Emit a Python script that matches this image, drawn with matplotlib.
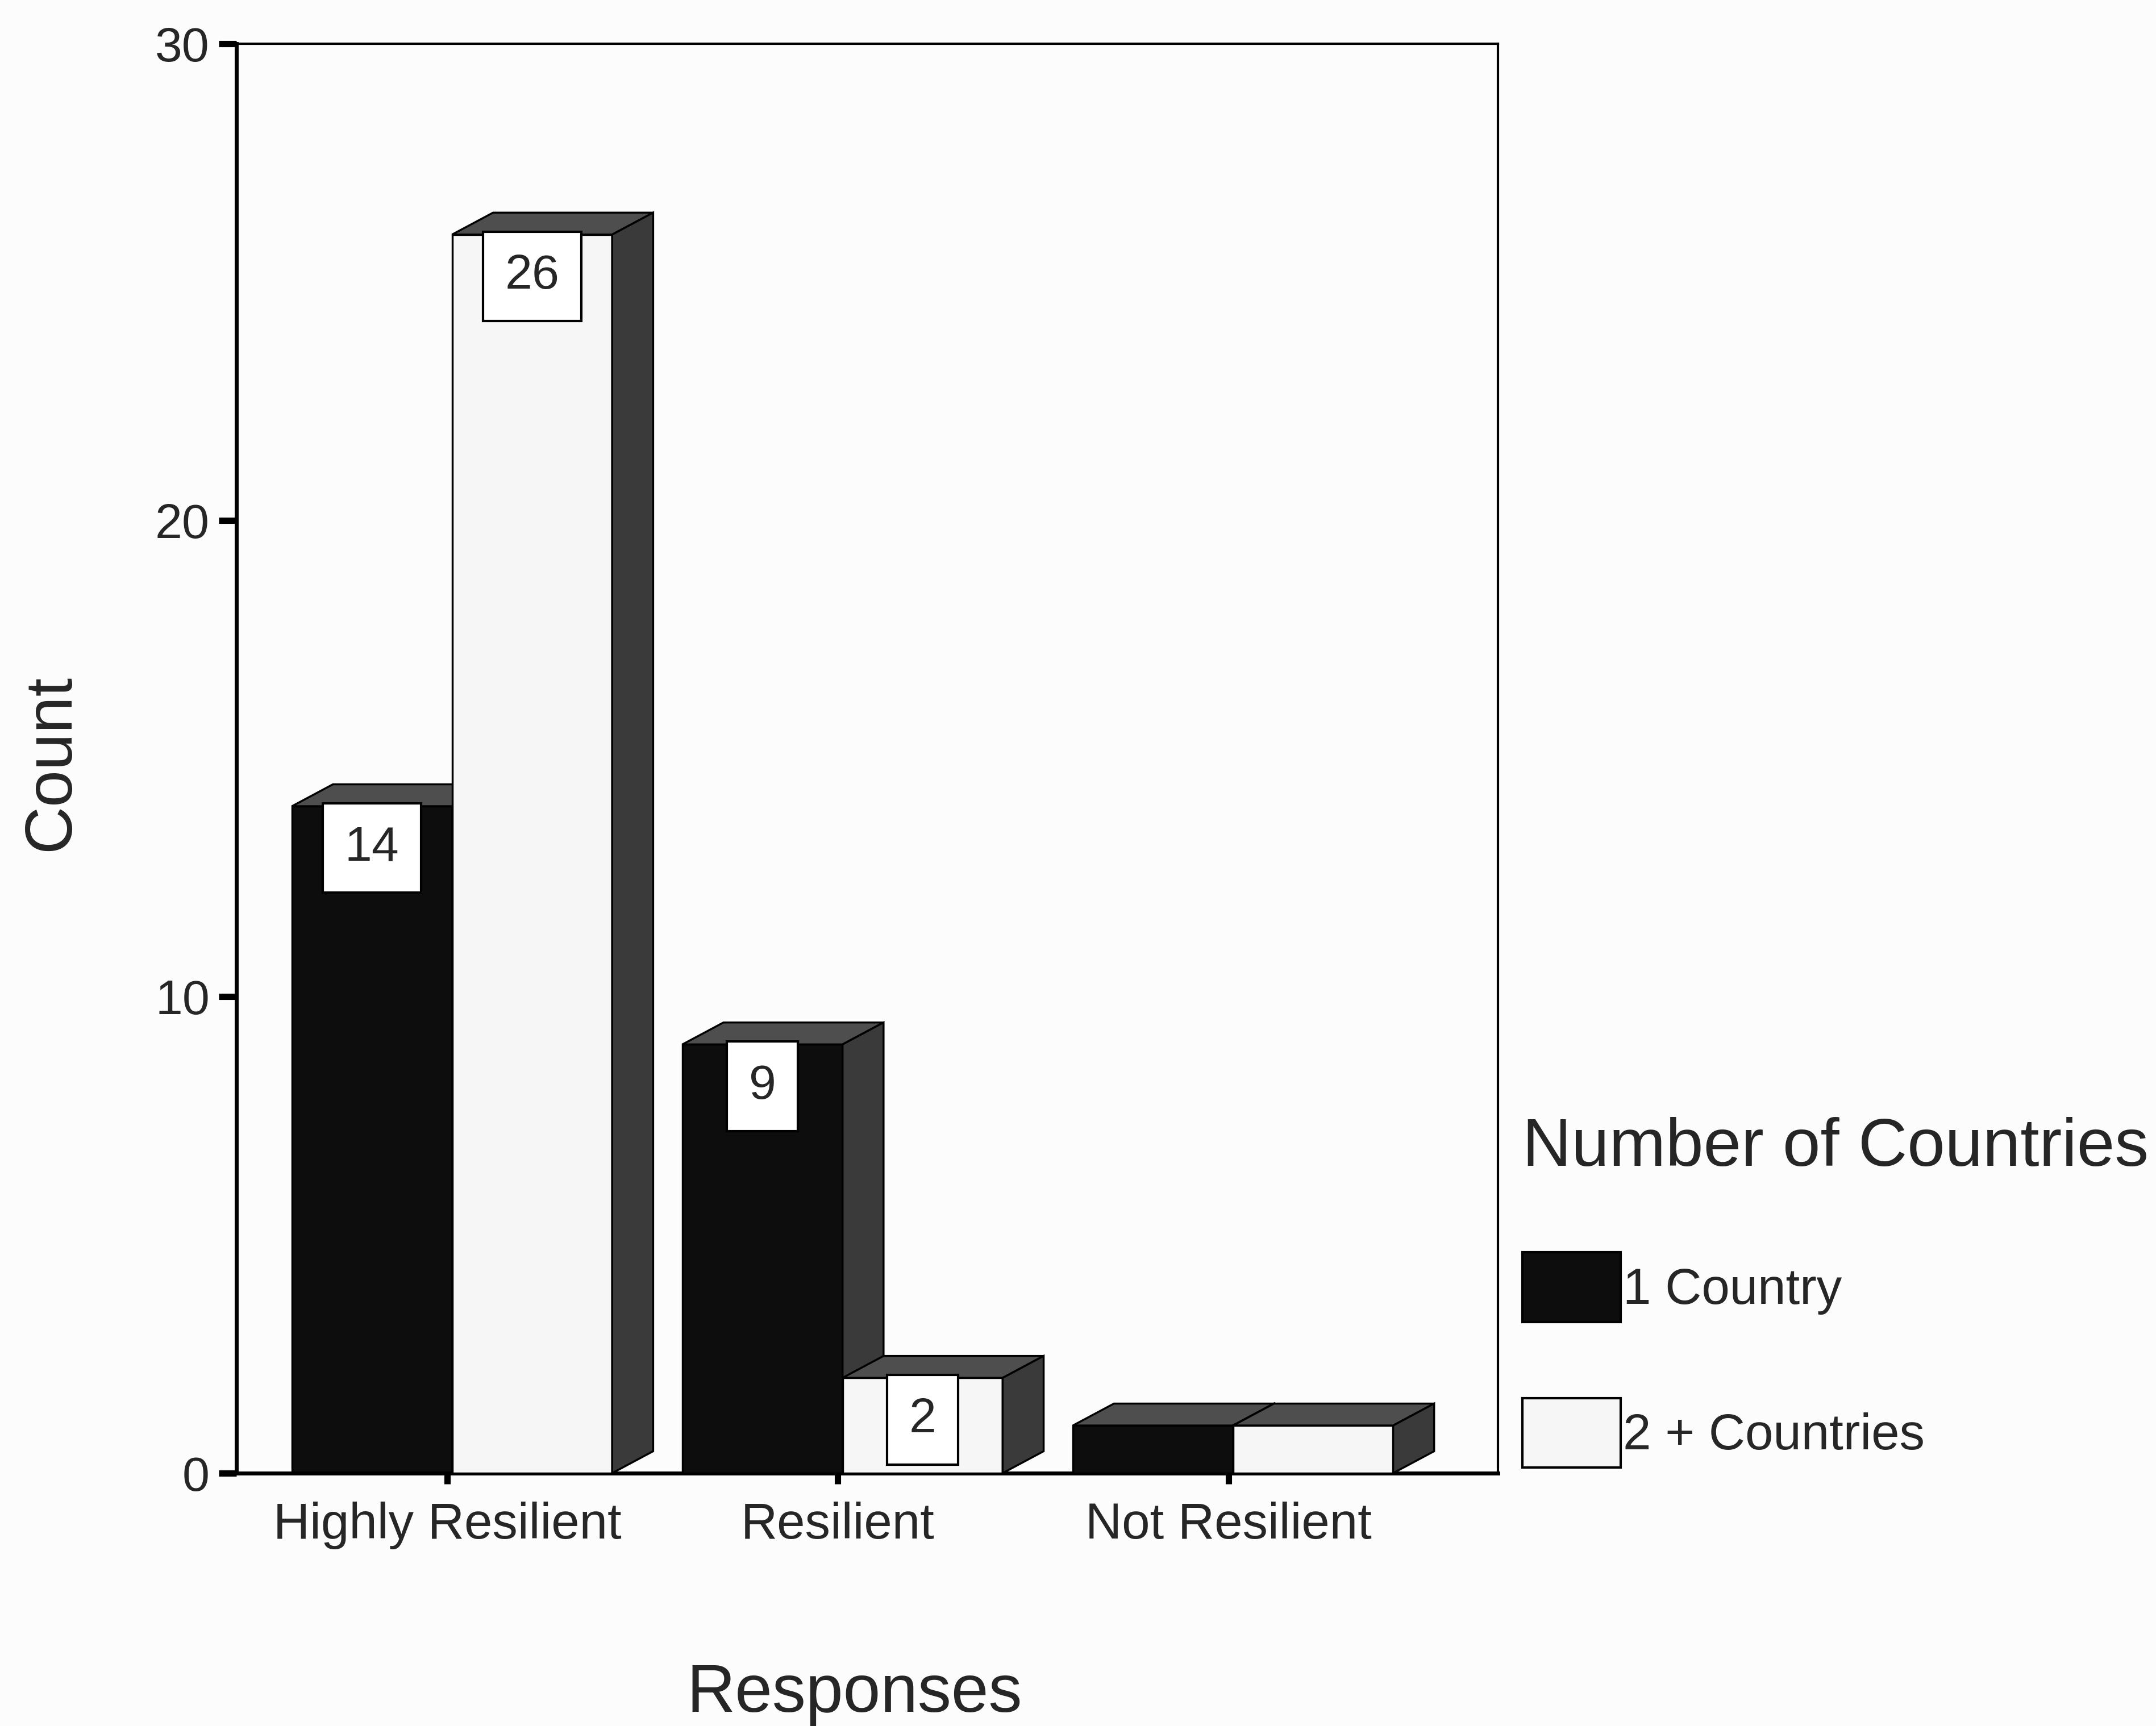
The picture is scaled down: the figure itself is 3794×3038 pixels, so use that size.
import matplotlib
matplotlib.use('Agg')
import matplotlib.pyplot as plt
from matplotlib.patches import Polygon, Patch
import numpy as np

# data
categories = ['Highly Resilient', 'Resilient', 'Not Resilient']
series_names = ['1 Country', '2 + Countries']
one_country = [14, 9, 1]
two_plus = [26, 2, 1]

plt.rcParams['font.family'] = ['Liberation Sans', 'DejaVu Sans']

front_colors = ['#0d0d0d', '#f6f6f6']
side_color = '#3a3a3a'
top_color = '#4e4e4e'
txt_color = '#262626'

bar_w = 0.41      # width of one bar in category units
dx, dy = 0.105, 0.46  # 3d depth offset (x units, count units)

fig = plt.figure(figsize=(37.94, 30.38), dpi=100, facecolor='#fcfcfc')
ax = fig.add_axes([0.1097, 0.1465, 0.585, 0.828])
ax.set_facecolor('#fcfcfc')

x = np.arange(len(categories))
for j, vals in enumerate([one_country, two_plus]):
    for i, v in enumerate(vals):
        x0 = x[i] - bar_w + j * bar_w + 0.012
        x1 = x0 + bar_w
        z = 2 + j * 3 + i * 10
        ax.bar(x0, v, width=bar_w, align='edge', color=front_colors[j],
               edgecolor='black', linewidth=2.5, zorder=z)
        # top face
        ax.add_patch(Polygon([(x0, v), (x1, v), (x1 + dx, v + dy), (x0 + dx, v + dy)],
                             closed=True, facecolor=top_color, edgecolor='black',
                             linewidth=2.5, zorder=z + 1))
        # side face
        ax.add_patch(Polygon([(x1, 0), (x1 + dx, dy), (x1 + dx, v + dy), (x1, v)],
                             closed=True, facecolor=side_color, edgecolor='black',
                             linewidth=2.5, zorder=z + 1))
        # value label box
        if v >= 2:
            ax.text(x0 + bar_w / 2, v - 0.4, str(v), ha='center', va='top',
                    fontsize=62, color=txt_color, zorder=z + 2,
                    bbox=dict(boxstyle='square,pad=0.45', facecolor='white',
                              edgecolor='black', linewidth=3))

ax.set_xlim(-0.54, 2.69)
ax.set_ylim(0, 30)
ax.set_yticks([0, 10, 20, 30])
ax.set_xticks(x)
ax.set_xticklabels(categories)
ax.tick_params(axis='y', direction='out', length=22, width=8, pad=12,
               labelsize=62, labelcolor=txt_color)
ax.tick_params(axis='x', direction='out', length=14, width=8, pad=22,
               labelsize=64, labelcolor=txt_color)

for s in ['left', 'bottom']:
    ax.spines[s].set_linewidth(5)
for s in ['top', 'right']:
    ax.spines[s].set_linewidth(3)

ax.set_ylabel('Count', fontsize=84, color=txt_color)
ax.yaxis.set_label_coords(-0.122, 0.497)
ax.set_xlabel('Responses', fontsize=85, color=txt_color)
ax.xaxis.set_label_coords(0.49, -0.133)

handles = [Patch(facecolor=front_colors[0], edgecolor='black', linewidth=3),
           Patch(facecolor=front_colors[1], edgecolor='black', linewidth=3)]
leg = fig.legend(handles, series_names, loc='upper left',
                 bbox_to_anchor=(0.706, 0.353), frameon=False,
                 fontsize=64, title='Number of Countries', title_fontsize=86,
                 alignment='left', handlelength=1.95, handleheight=1.75,
                 labelspacing=1.5, handletextpad=0.05, borderpad=0,
                 borderaxespad=0)
leg.get_title().set_color(txt_color)
for t in leg.get_texts():
    t.set_color(txt_color)
leg._legend_box.sep = 92

fig.savefig('out.png', dpi=100, facecolor=fig.get_facecolor())
